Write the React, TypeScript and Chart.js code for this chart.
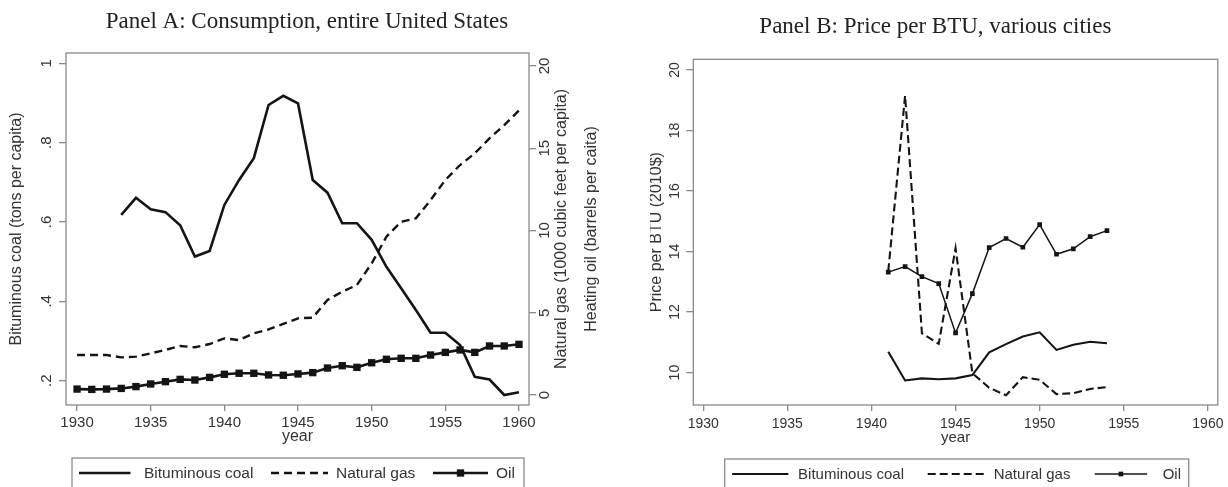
import React, { useEffect, useRef } from 'react';
import { Chart, registerables } from 'chart.js';

Chart.register(...registerables);

// ---------------- Panel A: consumption, entire United States ----------------
const yearsA = [
  1930, 1931, 1932, 1933, 1934, 1935, 1936, 1937, 1938, 1939,
  1940, 1941, 1942, 1943, 1944, 1945, 1946, 1947, 1948, 1949,
  1950, 1951, 1952, 1953, 1954, 1955, 1956, 1957, 1958, 1959, 1960,
];
// tons per capita (left axis)
const coalA = [
  null, null, null, 0.618, 0.661, 0.632, 0.625, 0.592, 0.513, 0.527,
  0.643, 0.706, 0.761, 0.895, 0.918, 0.899, 0.706, 0.674, 0.597, 0.597,
  0.555, 0.487, 0.433, 0.378, 0.321, 0.321, 0.29, 0.21, 0.203, 0.164, 0.171,
];
// 1000 cubic feet per capita (right axis)
const gasA = [
  2.43, 2.43, 2.43, 2.29, 2.33, 2.53, 2.74, 2.98, 2.9, 3.1,
  3.44, 3.34, 3.75, 3.99, 4.32, 4.66, 4.7, 5.78, 6.28, 6.69,
  8.0, 9.62, 10.53, 10.74, 11.85, 13.07, 13.98, 14.69, 15.6, 16.41, 17.3,
];
// barrels per capita (right axis)
const oilA = [
  0.36, 0.34, 0.36, 0.4, 0.51, 0.67, 0.81, 0.95, 0.91, 1.07,
  1.26, 1.32, 1.32, 1.22, 1.2, 1.28, 1.36, 1.64, 1.78, 1.68,
  1.96, 2.17, 2.23, 2.23, 2.43, 2.59, 2.74, 2.59, 2.98, 2.98, 3.08,
];

// ---------------- Panel B: price per BTU, various cities ----------------
const yearsB = [1941, 1942, 1943, 1944, 1945, 1946, 1947, 1948, 1949, 1950, 1951, 1952, 1953, 1954];
const coalB = [10.69, 9.74, 9.81, 9.78, 9.81, 9.92, 10.67, 10.94, 11.19, 11.33, 10.75, 10.92, 11.02, 10.97];
const gasB = [13.35, 19.15, 11.3, 10.95, 14.11, 9.98, 9.5, 9.25, 9.85, 9.76, 9.29, 9.32, 9.46, 9.52];
const oilB = [13.32, 13.5, 13.17, 12.94, 11.31, 12.61, 14.13, 14.43, 14.14, 14.89, 13.91, 14.09, 14.49, 14.69];

// ---------------- ticks & texts ----------------
const xTicks = [1930, 1935, 1940, 1945, 1950, 1955, 1960];
const coalTicks = [0.2, 0.4, 0.6, 0.8, 1];
const coalTickLabels = ['.2', '.4', '.6', '.8', '1'];
const gasOilTicks = [0, 5, 10, 15, 20];
const gasOilTickLabels = ['0', '5', '10', '15', '20'];
const priceTicks = [10, 12, 14, 16, 18, 20];
const priceTickLabels = ['10', '12', '14', '16', '18', '20'];

const seriesNames = ['Bituminous coal', 'Natural gas', 'Oil'];
const titleA = 'Panel A: Consumption, entire United States';
const titleB = 'Panel B: Price per BTU, various cities';
const xTitle = 'year';
const yTitleA = 'Bituminous coal (tons per capita)';
const y2TitlesA = ['Natural gas (1000 cubic feet per capita)', 'Heating oil (barrels per caita)'];
const yTitleB = 'Price per BTU (2010$)';

// ---------------- styling ----------------
const SANS = "'Liberation Sans', Arial, Helvetica, sans-serif";
const SERIF = "'Liberation Serif', 'Times New Roman', serif";
const INK = '#141414';
const TXT = '#333333';
const FRAME = '#8a8a8a';

const stataDecor = {
  id: 'stataDecor',
  beforeDatasetsDraw(chart: any, _args: any, o: any) {
    const { ctx, chartArea: ca } = chart;
    ctx.save();
    ctx.strokeStyle = o.frameColor;
    ctx.lineWidth = o.frameWidth;
    ctx.strokeRect(ca.left, ca.top, ca.right - ca.left, ca.bottom - ca.top);
    ctx.restore();
  },
  afterDraw(chart: any, _args: any, o: any) {
    const { ctx, chartArea: ca } = chart;
    const midY = (ca.top + ca.bottom) / 2;
    // rotated y tick labels and y titles
    for (const ax of o.axes) {
      const s = chart.scales[ax.id];
      ctx.save();
      ctx.fillStyle = o.textColor;
      ctx.textAlign = 'center';
      ctx.textBaseline = 'middle';
      ctx.font = `${ax.fontSize}px ${SANS}`;
      const lx = ax.side === 'left' ? ca.left - ax.labelGap : ca.right + ax.labelGap;
      ax.values.forEach((v: number, i: number) => {
        const y = s.getPixelForValue(v);
        ctx.save();
        ctx.translate(lx, y);
        ctx.rotate(-Math.PI / 2);
        ctx.fillText(ax.labels[i], 0, 0);
        ctx.restore();
      });
      ctx.font = `${ax.titleSize}px ${SANS}`;
      ax.titles.forEach((t: string, k: number) => {
        const tx = ax.side === 'left' ? ca.left - ax.titleGaps[k] : ca.right + ax.titleGaps[k];
        ctx.save();
        ctx.translate(tx, midY);
        ctx.rotate(-Math.PI / 2);
        ctx.fillText(t, 0, 0);
        ctx.restore();
      });
      ctx.restore();
    }
    // boxed legend
    const lg = o.legend;
    ctx.save();
    ctx.strokeStyle = o.frameColor;
    ctx.lineWidth = o.frameWidth;
    ctx.strokeRect(lg.left, lg.top, lg.right - lg.left, 80);
    chart.data.datasets.forEach((ds: any, i: number) => {
      const it = lg.items[i];
      ctx.save();
      ctx.strokeStyle = ds.borderColor;
      ctx.lineWidth = ds.borderWidth;
      ctx.setLineDash(ds.borderDash || []);
      ctx.beginPath();
      ctx.moveTo(it.x0, lg.textY);
      ctx.lineTo(it.x1, lg.textY);
      ctx.stroke();
      ctx.setLineDash([]);
      if (ds.pointRadius > 0) {
        const side = ds.pointRadius * Math.SQRT2;
        ctx.fillStyle = ds.pointBackgroundColor;
        ctx.fillRect((it.x0 + it.x1) / 2 - side / 2, lg.textY - side / 2, side, side);
      }
      ctx.fillStyle = o.textColor;
      ctx.font = `${lg.fontSize}px ${SANS}`;
      ctx.textAlign = 'left';
      ctx.textBaseline = 'middle';
      ctx.fillText(ds.label, it.tx, lg.textY + 1);
      ctx.restore();
    });
    ctx.restore();
  },
};

const pts = (xs: number[], ys: (number | null)[]) => xs.map((x, i) => ({ x, y: ys[i] }));

const tickGrid = (len: number) => ({
  drawOnChartArea: false,
  drawTicks: true,
  tickLength: len,
  color: FRAME,
  lineWidth: 1.3,
});

function makeXScale(min: number, max: number, tickSize: number, tickPad: number, titleSize: number, titleBottom: number) {
  return {
    type: 'linear',
    position: 'bottom',
    min,
    max,
    afterBuildTicks: (s: any) => {
      s.ticks = xTicks.map((v) => ({ value: v }));
    },
    afterFit: (s: any) => {
      s.height = 82;
    },
    grid: tickGrid(6),
    border: { display: false },
    ticks: {
      font: { family: SANS, size: tickSize },
      color: TXT,
      padding: tickPad,
      maxRotation: 0,
      autoSkip: false,
      callback: (v: any) => String(v),
    },
    title: {
      display: true,
      text: xTitle,
      font: { family: SANS, size: titleSize },
      color: TXT,
      padding: { top: 0, bottom: titleBottom },
    },
  };
}

function configA(): any {
  const base = { borderColor: INK, backgroundColor: INK, tension: 0, fill: false, pointRadius: 0, pointHoverRadius: 0 };
  return {
    type: 'line',
    data: {
      datasets: [
        { ...base, label: seriesNames[0], data: pts(yearsA, coalA), borderWidth: 2.6, yAxisID: 'y' },
        { ...base, label: seriesNames[1], data: pts(yearsA, gasA), borderWidth: 2.4, borderDash: [8, 5], yAxisID: 'y2' },
        {
          ...base, label: seriesNames[2], data: pts(yearsA, oilA), borderWidth: 2.6, yAxisID: 'y2',
          pointStyle: 'rect', pointRadius: 5.2, pointBorderWidth: 0, pointBackgroundColor: INK,
        },
      ],
    },
    options: {
      responsive: false,
      devicePixelRatio: 1,
      animation: false,
      events: [],
      layout: { padding: { left: 0, right: 0, top: 0, bottom: 0 } },
      scales: {
        x: makeXScale(1929.25, 1960.68, 15, 3, 16, 41),
        y: {
          type: 'linear', position: 'left', min: 0.1388, max: 1.026,
          afterBuildTicks: (s: any) => { s.ticks = coalTicks.map((v) => ({ value: v })); },
          afterFit: (s: any) => { s.width = 66; },
          grid: tickGrid(7), border: { display: false }, ticks: { display: false },
        },
        y2: {
          type: 'linear', position: 'right', min: -0.608, max: 20.79,
          afterBuildTicks: (s: any) => { s.ticks = gasOilTicks.map((v) => ({ value: v })); },
          afterFit: (s: any) => { s.width = 85; },
          grid: tickGrid(7), border: { display: false }, ticks: { display: false },
        },
      },
      plugins: {
        legend: { display: false },
        tooltip: { enabled: false },
        title: {
          display: true, text: titleA, color: '#222',
          font: { family: SERIF, size: 23, weight: 'normal' },
          padding: { top: 7.7, bottom: 17.7 },
        },
        stataDecor: {
          frameColor: FRAME, frameWidth: 1.3, textColor: TXT,
          axes: [
            { id: 'y', side: 'left', values: coalTicks, labels: coalTickLabels, labelGap: 19, fontSize: 15, titleSize: 16, titles: [yTitleA], titleGaps: [49] },
            { id: 'y2', side: 'right', values: gasOilTicks, labels: gasOilTickLabels, labelGap: 16, fontSize: 15, titleSize: 16, titles: y2TitlesA, titleGaps: [33, 63] },
          ],
          legend: {
            left: 72, right: 524, top: 458, textY: 473, fontSize: 15.5,
            items: [
              { x0: 79, x1: 130.5, tx: 144 },
              { x0: 271, x1: 328, tx: 336 },
              { x0: 433, x1: 488, tx: 496 },
            ],
          },
        },
      },
    },
    plugins: [stataDecor],
  };
}

function configB(): any {
  const base = { borderColor: INK, backgroundColor: INK, tension: 0, fill: false, pointRadius: 0, pointHoverRadius: 0 };
  return {
    type: 'line',
    data: {
      datasets: [
        { ...base, label: seriesNames[0], data: pts(yearsB, coalB), borderWidth: 2.1 },
        { ...base, label: seriesNames[1], data: pts(yearsB, gasB), borderWidth: 2.1, borderDash: [8, 4] },
        {
          ...base, label: seriesNames[2], data: pts(yearsB, oilB), borderWidth: 1.5,
          pointStyle: 'rect', pointRadius: 3.3, pointBorderWidth: 0, pointBackgroundColor: INK,
        },
      ],
    },
    options: {
      responsive: false,
      devicePixelRatio: 1,
      animation: false,
      events: [],
      layout: { padding: { left: 0, right: 7.3, top: 0, bottom: 0 } },
      scales: {
        x: makeXScale(1929.41, 1960.59, 14, 4.4, 15, 39.8),
        y: {
          type: 'linear', position: 'left', min: 8.93, max: 20.35,
          afterBuildTicks: (s: any) => { s.ticks = priceTicks.map((v) => ({ value: v })); },
          afterFit: (s: any) => { s.width = 43.3; },
          grid: tickGrid(7), border: { display: false }, ticks: { display: false },
        },
      },
      plugins: {
        legend: { display: false },
        tooltip: { enabled: false },
        title: {
          display: true, text: titleB, color: '#222',
          font: { family: SERIF, size: 23, weight: 'normal' },
          padding: { top: 12.7, bottom: 19 },
        },
        stataDecor: {
          frameColor: FRAME, frameWidth: 1.3, textColor: TXT,
          axes: [
            { id: 'y', side: 'left', values: priceTicks, labels: priceTickLabels, labelGap: 18.3, fontSize: 14, titleSize: 16, titles: [yTitleB], titleGaps: [36.6] },
          ],
          legend: {
            left: 74.7, right: 538.7, top: 459, textY: 474, fontSize: 15,
            items: [
              { x0: 82.2, x1: 138.4, tx: 148.1 },
              { x0: 277.7, x1: 336.2, tx: 343.7 },
              { x0: 444.7, x1: 497.1, tx: 512.7 },
            ],
          },
        },
      },
    },
    plugins: [stataDecor],
  };
}

export default function App() {
  const refA = useRef<HTMLCanvasElement>(null);
  const refB = useRef<HTMLCanvasElement>(null);

  useEffect(() => {
    const a = new Chart(refA.current as HTMLCanvasElement, configA());
    const b = new Chart(refB.current as HTMLCanvasElement, configB());
    return () => {
      a.destroy();
      b.destroy();
    };
  }, []);

  return (
    <div style={{ position: 'fixed', left: 0, top: 0, width: 1228, height: 487, background: '#fff', overflow: 'hidden' }}>
      <canvas ref={refA} width={614} height={487} style={{ position: 'absolute', left: 0, top: 0, width: 614, height: 487 }} />
      <canvas ref={refB} width={578} height={487} style={{ position: 'absolute', left: 650, top: 0, width: 578, height: 487 }} />
    </div>
  );
}
